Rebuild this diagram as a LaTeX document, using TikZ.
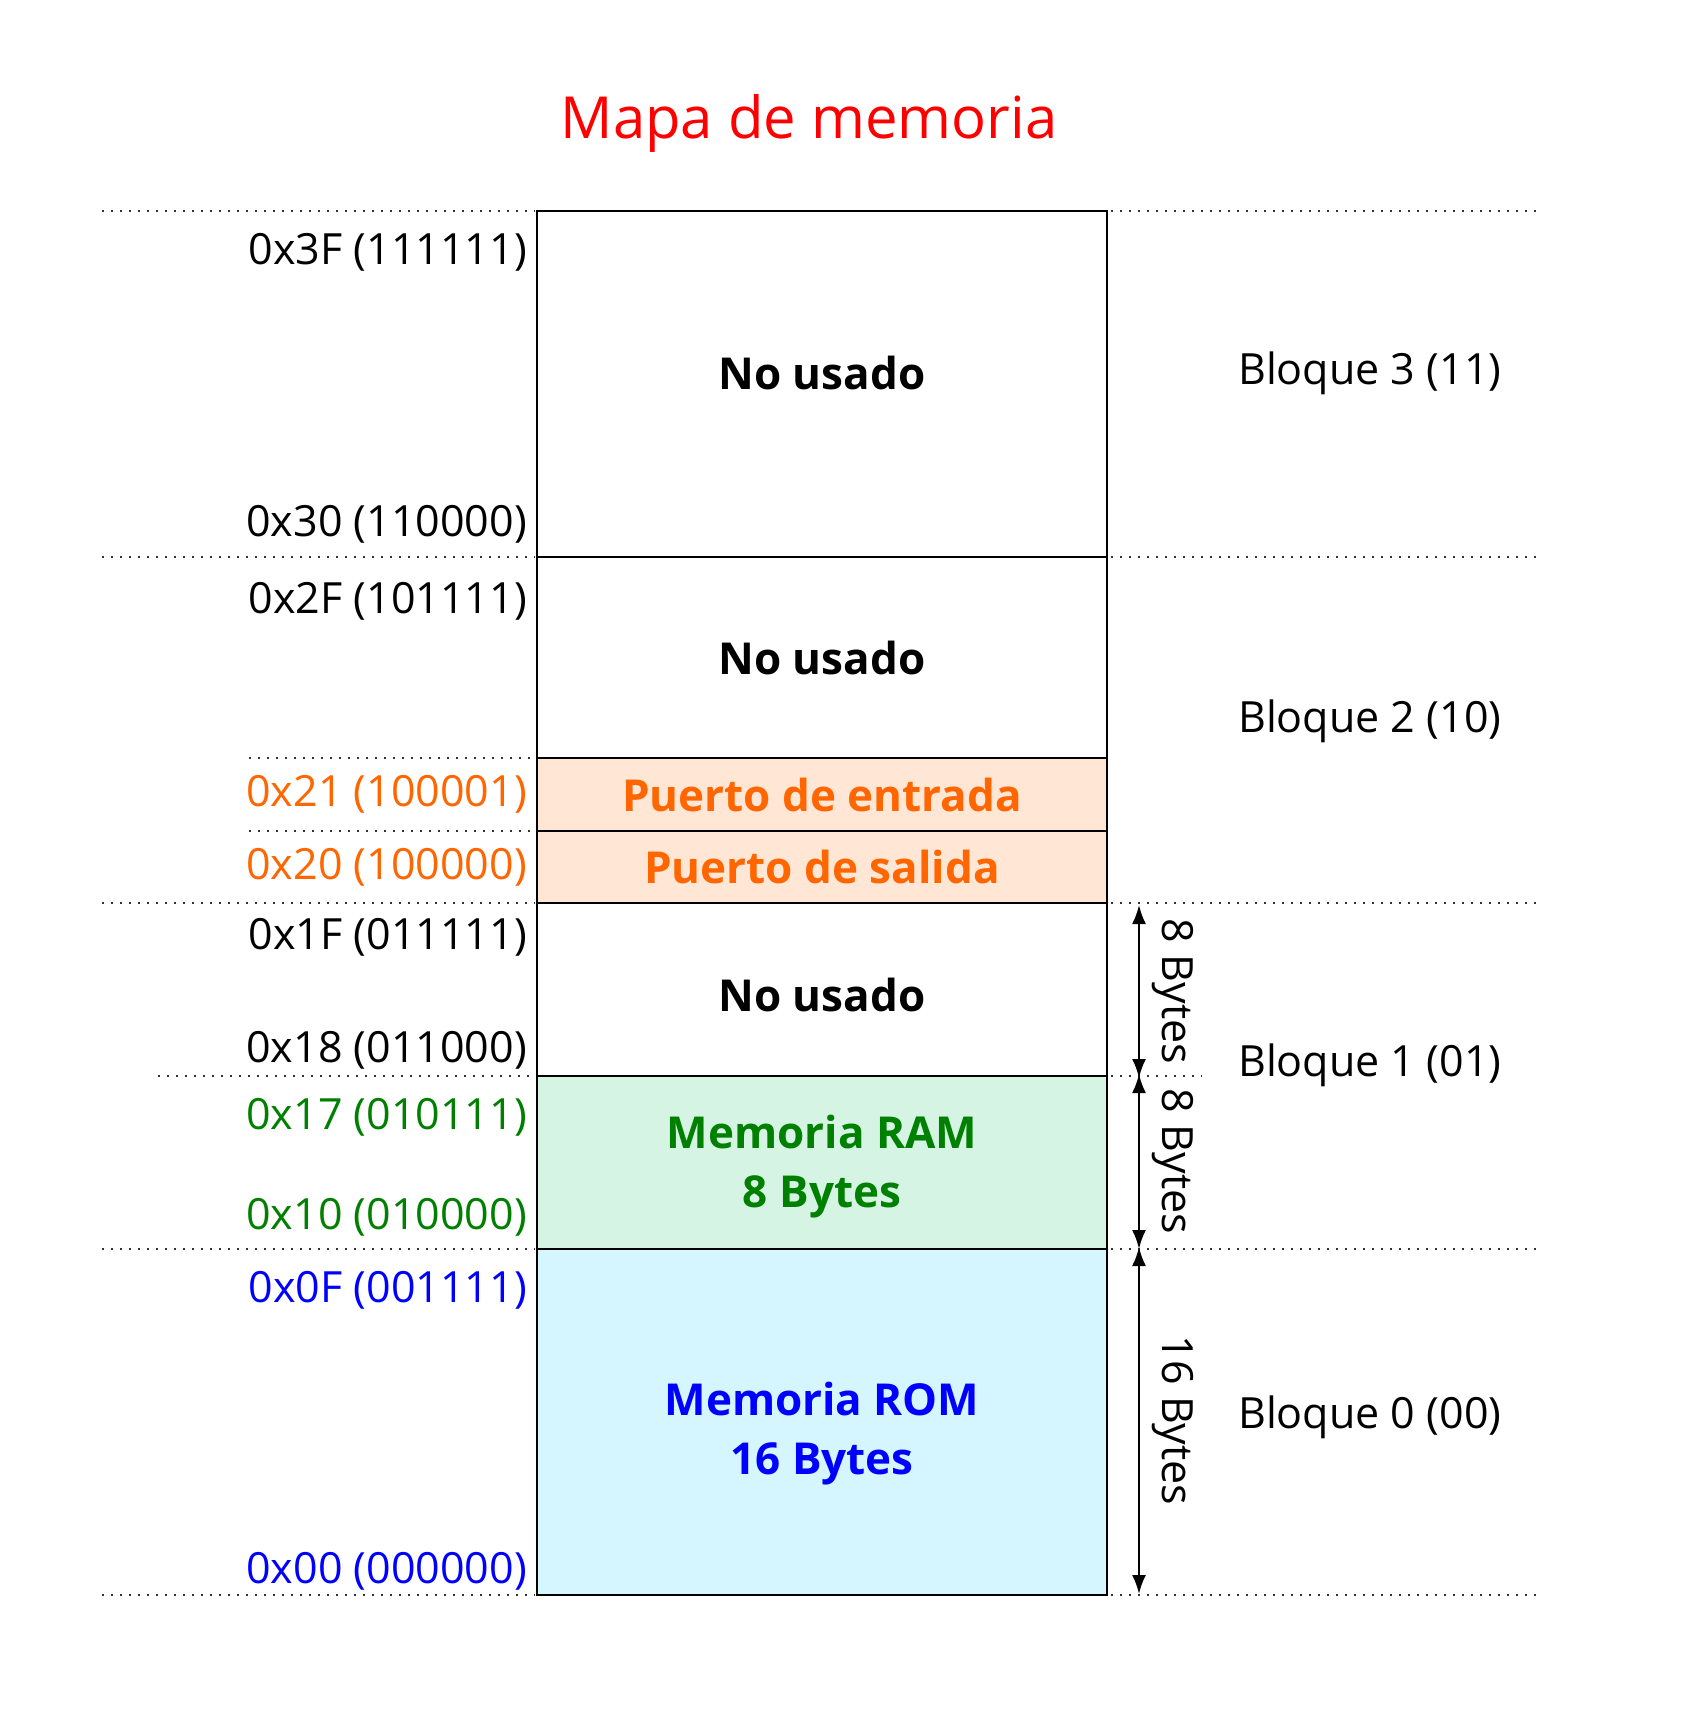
\documentclass[tikz,border=0pt]{standalone}
\usepackage{fontspec}
\setmainfont{Open Sans}
\usetikzlibrary{arrows.meta,positioning}

\definecolor{portfill}{HTML}{FFE6D5}
\definecolor{ramfill}{HTML}{D5F4E3}
\definecolor{romfill}{HTML}{D5F6FF}
\definecolor{porttext}{HTML}{FF6600}
\definecolor{ramtext}{HTML}{008000}
\definecolor{romtext}{HTML}{0000FF}

\begin{document}
\begin{tikzpicture}[
  x=1pt, y=-1pt,
  font=\fontsize{43}{52}\selectfont,
  region/.style={
    draw=black,
    line width=2pt,
    minimum width=570pt,
    outer sep=0pt,
    inner sep=0pt,
    align=center,
    font=\fontsize{44}{59}\selectfont\bfseries
  },
  addr/.style={anchor=east, inner sep=0pt},
  bloque/.style={anchor=west, inner sep=0pt},
  guide/.style={line width=2pt, dash pattern=on 2pt off 7pt, draw=black!80},
  bytespan/.style={{Latex[length=19pt,width=14pt]}-{Latex[length=19pt,width=14pt]}, line width=2.2pt},
  sizelabel/.style={rotate=-90, anchor=south, inner sep=12pt}
]
  \fill[white] (0,0) rectangle (1684,1714);
  \useasboundingbox (0,0) rectangle (1684,1714);

  \node[text=red, font=\fontsize{58}{70}\selectfont] (title) at (809,123) {Mapa de memoria};

  % memory regions, top to bottom
  \node[region, minimum height=346pt, text depth=22pt] (blk3) at (822,384) {No usado};
  \node[region, minimum height=201pt, below=0pt of blk3] (blk2) {No usado};
  \node[region, minimum height=73pt, fill=portfill, text=porttext, below=0pt of blk2] (pin) {Puerto de entrada};
  \node[region, minimum height=72pt, fill=portfill, text=porttext, below=0pt of pin] (pout) {Puerto de salida};
  \node[region, minimum height=173pt, text height=44pt, below=0pt of pout] (blk1) {No usado};
  \node[region, minimum height=173pt, fill=ramfill, text=ramtext, text height=101pt, below=0pt of blk1] (ram) {Memoria RAM\\8 Bytes};
  \node[region, minimum height=346pt, fill=romfill, text=romtext, text height=115pt, below=0pt of ram] (rom) {Memoria ROM\\16 Bytes};

  % dotted guides
  \foreach \y in {211,557,903,1249,1595} {
    \draw[guide] (102,\y) -- (535,\y);
    \draw[guide] (1111,\y) -- (1541,\y);
  }
  \foreach \y in {758,831}
    \draw[guide] (249,\y) -- (535,\y);
  \draw[guide] (158,1076) -- (535,1076);
  \draw[guide] (1111,1076) -- (1202,1076);

  % addresses
  \node[addr] (a3f) at (527,252) {0x3F (111111)};
  \node[addr] (a30) at (527,524) {0x30 (110000)};
  \node[addr] (a2f) at (527,601) {0x2F (101111)};
  \node[addr, text=porttext] (a21) at (527,794) {0x21 (100001)};
  \node[addr, text=porttext] (a20) at (527,867) {0x20 (100000)};
  \node[addr] (a1f) at (527,937) {0x1F (011111)};
  \node[addr] (a18) at (527,1050) {0x18 (011000)};
  \node[addr, text=ramtext] (a17) at (527,1117) {0x17 (010111)};
  \node[addr, text=ramtext] (a10) at (527,1217) {0x10 (010000)};
  \node[addr, text=romtext] (a0f) at (527,1290) {0x0F (001111)};
  \node[addr, text=romtext] (a00) at (527,1571) {0x00 (000000)};

  % blocks
  \node[bloque] (b3) at (1238,373) {Bloque 3 (11)};
  \node[bloque] (b2) at (1238,721) {Bloque 2 (10)};
  \node[bloque] (b1) at (1238,1065) {Bloque 1 (01)};
  \node[bloque] (b0) at (1238,1417) {Bloque 0 (00)};

  % sizes
  \coordinate (s1) at (1139,905);
  \coordinate (s2) at (1139,1076);
  \coordinate (s3) at (1139,1249);
  \coordinate (s4) at (1139,1594);
  \draw[bytespan] (s1) -- node[sizelabel] {8 Bytes} ([yshift=-2pt]s2);
  \draw[bytespan] ([yshift=2pt]s2) -- node[sizelabel] {8 Bytes} (s3);
  \draw[bytespan] ([yshift=2pt]s3) -- node[sizelabel] {16 Bytes} (s4);
\end{tikzpicture}
\end{document}
